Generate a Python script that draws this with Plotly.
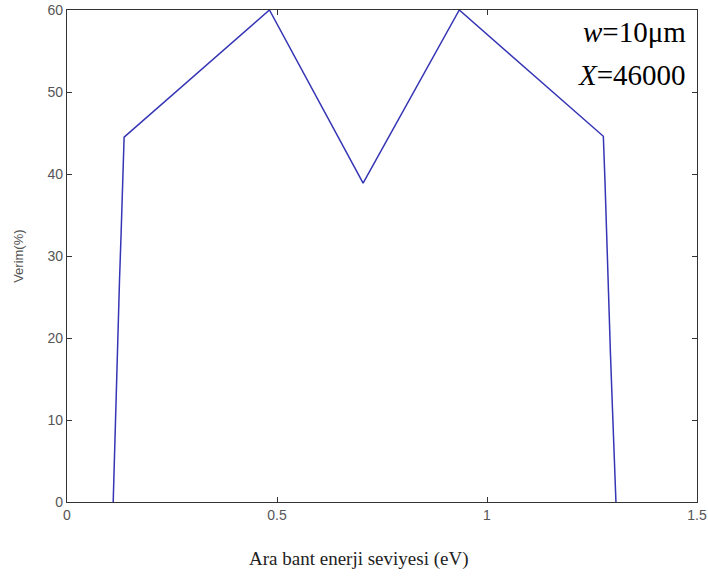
import plotly.graph_objects as go

# data
energy = [0.110, 0.113, 0.117, 0.121, 0.125, 0.129, 0.133, 0.136, 0.482, 0.705, 0.934, 1.277, 1.281, 1.285, 1.289, 1.294, 1.299, 1.303, 1.307]
efficiency = [0.0, 6.0, 13.0, 20.0, 27.0, 33.0, 39.0, 44.5, 60.0, 38.9, 60.0, 44.6, 39.0, 32.0, 25.0, 18.0, 11.0, 5.0, 0.0]

x_ticks = [0, 0.5, 1, 1.5]
x_tick_labels = ["0", "0.5", "1", "1.5"]
y_ticks = [0, 10, 20, 30, 40, 50, 60]

fig = go.Figure()
fig.add_trace(go.Scatter(x=energy, y=efficiency, mode="lines",
                         line=dict(color="#3535b5", width=1.5), showlegend=False))

axis_common = dict(showline=True, linecolor="#333333", linewidth=1.2, mirror="ticks",
                   ticks="inside", ticklen=5, tickcolor="#333333", showgrid=False,
                   zeroline=False, automargin=False,
                   tickfont=dict(family="Liberation Sans, Arial", size=14, color="#555555"))

fig.update_xaxes(range=[0, 1.5], tickvals=x_ticks, ticktext=x_tick_labels, **axis_common)
fig.update_yaxes(range=[0, 60], tickvals=y_ticks, **axis_common)

fig.update_layout(
    template="none",
    width=708, height=577,
    margin=dict(l=67, r=11, t=10, b=75),
    paper_bgcolor="white", plot_bgcolor="white",
    annotations=[
        dict(text="Ara bant enerji seviyesi (eV)", xref="paper", yref="paper",
             x=0.463, y=-0.115, xanchor="center", yanchor="middle", showarrow=False,
             font=dict(family="Liberation Serif, Times New Roman", size=19, color="#222222")),
        dict(text="Verim(%)", xref="paper", yref="paper", x=-0.078, y=0.5,
             xanchor="center", yanchor="middle", textangle=-90, showarrow=False,
             font=dict(family="Liberation Sans, Arial", size=13, color="#555555")),
        dict(text="<i>w</i>=10μm", xref="paper", yref="paper", x=0.986, y=0.955,
             xanchor="right", yanchor="middle", showarrow=False,
             font=dict(family="Liberation Serif, Times New Roman", size=29, color="black")),
        dict(text="<i>X</i>=46000", xref="paper", yref="paper", x=0.986, y=0.868,
             xanchor="right", yanchor="middle", showarrow=False,
             font=dict(family="Liberation Serif, Times New Roman", size=29, color="black")),
    ],
)

fig.write_html("out.html")
